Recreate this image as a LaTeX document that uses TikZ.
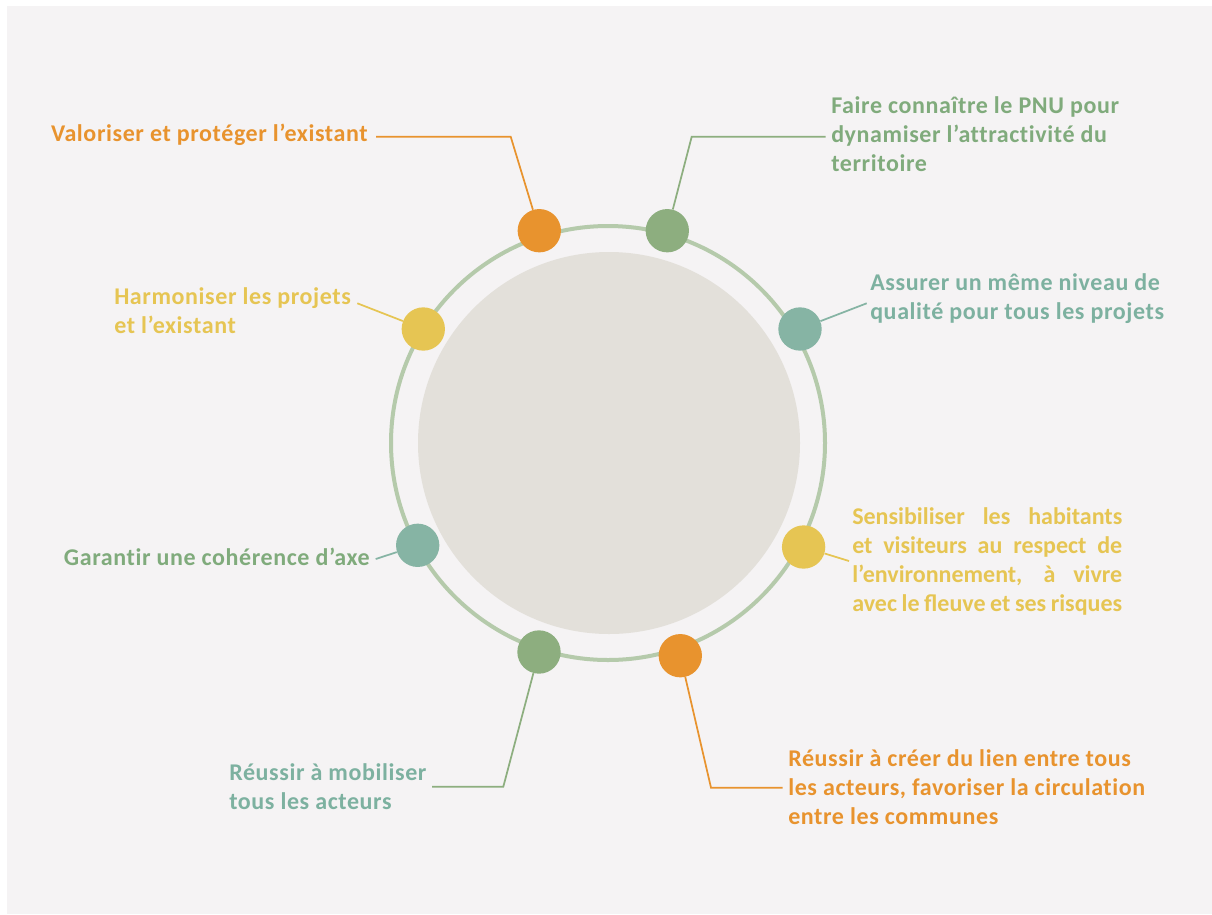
\documentclass[tikz,border=0pt]{standalone}
\usepackage{fontspec}
\setmainfont{Carlito}
\newfontfamily\goalfont{Carlito}[LetterSpace=2.5, Ligatures=NoCommon]
\usetikzlibrary{positioning}
\definecolor{panelbg}{HTML}{F5F3F4}
\definecolor{diskfill}{HTML}{E3E0DA}
\definecolor{ringgreen}{HTML}{B5CAAB}
\definecolor{axeorange}{HTML}{E8932E}
\definecolor{axegreen}{HTML}{8DAE7F}
\definecolor{axeteal}{HTML}{86B4A4}
\definecolor{axeyellow}{HTML}{E6C553}
\definecolor{txtgreen}{HTML}{80AB7C}
\definecolor{txtteal}{HTML}{7DB1A0}

\begin{document}
\begin{tikzpicture}[
  x=0.75pt,
  y=-0.75pt,
  dot/.style={
    circle,
    inner sep=0pt,
    minimum size=32.5pt,
    fill=#1
  },
  goal/.style={
    font=\fontsize{18}{21.75}\selectfont\goalfont\bfseries,
    text=#1,
    inner sep=0pt,
    align=left
  },
  leader/.style={
    draw=#1,
    line width=1.3pt
  }
]
  \useasboundingbox (0,0) rectangle (1212,914);
  \fill[white] (0,0) rectangle (1212,914);
  \fill[panelbg] (7,6) rectangle (1212,914);

  % centre
  \node[circle, fill=diskfill, minimum size=286.5pt, inner sep=0pt] (disk) at (609,443) {};
  \node[circle, draw=ringgreen, line width=3pt, minimum size=325.5pt, inner sep=0pt] (ring) at (608,443) {};

  % dots on the ring
  \node[dot=axeorange] (d1) at (539.3,230.7) {};
  \node[dot=axegreen] (d2) at (667.3,230.7) {};
  \node[dot=axeteal] (d3) at (800,329) {};
  \node[dot=axeyellow] (d4) at (423.3,329) {};
  \node[dot=axeteal] (d5) at (417.7,545.3) {};
  \node[dot=axeyellow] (d6) at (803.6,547) {};
  \node[dot=axegreen] (d7) at (539,652) {};
  \node[dot=axeorange] (d8) at (680.3,655.7) {};

  % texts
  \node[goal=axeorange, anchor=east] (t1) at (368,135)
    {Valoriser et protéger l’existant};
  \node[goal=txtgreen, anchor=west] (t2) at (831,134)
    {Faire connaître le PNU pour\\dynamiser l’attractivité du\\territoire};
  \node[goal=txtteal, anchor=west] (t3) at (870,298.5)
    {Assurer un même niveau de\\qualité pour tous les projets};
  \node[goal=axeyellow, anchor=west] (t4) at (114,311)
    {Harmoniser les projets\\et l’existant};
  \node[goal=txtgreen, anchor=east] (t5) at (370,557)
    {Garantir une cohérence d’axe};
  \node[goal=axeyellow, font=\fontsize{18}{21.75}\selectfont\rmfamily\bfseries,
        anchor=west, text width=202.5pt, align=justify] (t6) at (852,561.5)
    {Sensibiliser les habitants\linebreak et visiteurs au respect de\linebreak l’environnement, à vivre\linebreak avec le fleuve et ses risques};
  \node[goal=txtteal, anchor=west] (t7) at (229,786.5)
    {Réussir à mobiliser\\tous les acteurs};
  \node[goal=axeorange, anchor=west] (t8) at (788,787)
    {Réussir à créer du lien entre tous\\les acteurs, favoriser la circulation\\entre les communes};

  % leaders
  \coordinate (k1) at (510.7,136.7);
  \coordinate (k2) at (691.7,136.7);
  \coordinate (e3) at (866.7,303.3);
  \coordinate (e4) at (357.3,303.3);
  \coordinate (e5) at (375.7,559);
  \coordinate (e6) at (849,561);
  \coordinate (k7) at (503.3,786.7);
  \coordinate (k8) at (711,787.7);
  \draw[leader=axeorange] (d1) -- (k1) -- ([xshift=6pt]k1 -| t1.east);
  \draw[leader=axegreen] (d2) -- (k2) -- ([xshift=-4pt]k2 -| t2.west);
  \draw[leader=axeteal] (d3) -- (e3);
  \draw[leader=axeyellow] (d4) -- (e4);
  \draw[leader=axeteal] (d5) -- (e5);
  \draw[leader=axeyellow] (d6) -- (e6);
  \draw[leader=axegreen] (d7) -- (k7) -- (432,786.7);
  \draw[leader=axeorange] (d8) -- (k8) -- ([xshift=-4pt]k8 -| t8.west);
\end{tikzpicture}
\end{document}
